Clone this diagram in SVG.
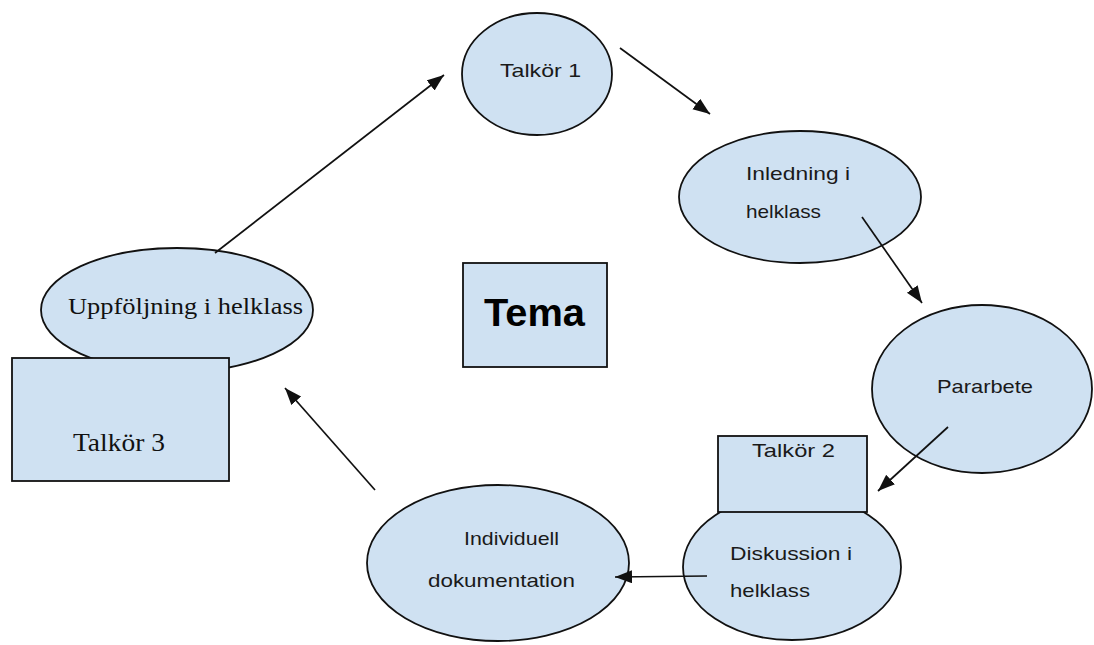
<svg xmlns="http://www.w3.org/2000/svg" width="1094" height="645" viewBox="0 0 1094 645">
<style>
.shape{fill:#cfe1f2;stroke:#111;stroke-width:1.8}
.sans{font-family:"Liberation Sans",Arial,sans-serif;font-size:19px;fill:#1a1a1a}
.serif{font-family:"Liberation Serif","Times New Roman",serif;fill:#111}
.conn{stroke:#111;stroke-width:1.7;fill:none;marker-end:url(#arrow)}
</style>
<defs>
<marker id="arrow" markerUnits="userSpaceOnUse" markerWidth="20" markerHeight="14" refX="17" refY="6.5" orient="auto">
<path d="M0,0 L17,6.5 L0,13 Z" fill="#111"/>
</marker>
</defs>
<rect width="1094" height="645" fill="#fff"/>
<g id="talkor1">
<ellipse class="shape" cx="537" cy="74" rx="75" ry="61"/>
<text class="sans" x="500" y="77" textLength="81" lengthAdjust="spacingAndGlyphs">Talkör 1</text>
</g>
<g id="inledning">
<ellipse class="shape" cx="800" cy="197" rx="121" ry="66"/>
<text class="sans" x="746" y="180" textLength="104" lengthAdjust="spacingAndGlyphs">Inledning i</text>
<text class="sans" x="746" y="218" textLength="75" lengthAdjust="spacingAndGlyphs">helklass</text>
</g>
<g id="pararbete">
<ellipse class="shape" cx="982" cy="389" rx="110" ry="84"/>
<text class="sans" x="937" y="393" textLength="96" lengthAdjust="spacingAndGlyphs">Pararbete</text>
</g>
<g id="diskussion">
<ellipse class="shape" cx="792" cy="567" rx="109" ry="73"/>
<text class="sans" x="730" y="560" textLength="122" lengthAdjust="spacingAndGlyphs">Diskussion i</text>
<text class="sans" x="730" y="597" textLength="80" lengthAdjust="spacingAndGlyphs">helklass</text>
</g>
<g id="talkor2">
<rect class="shape" x="718" y="436" width="149" height="76"/>
<text class="sans" x="752" y="457" textLength="83" lengthAdjust="spacingAndGlyphs">Talkör 2</text>
</g>
<g id="individuell">
<ellipse class="shape" cx="498" cy="563" rx="131" ry="78"/>
<text class="sans" x="464" y="545" textLength="95" lengthAdjust="spacingAndGlyphs">Individuell</text>
<text class="sans" x="428" y="587" textLength="147" lengthAdjust="spacingAndGlyphs">dokumentation</text>
</g>
<g id="uppfoljning">
<ellipse class="shape" cx="177" cy="310" rx="136" ry="62"/>
<text class="serif" x="68" y="314" font-size="24" textLength="235" lengthAdjust="spacingAndGlyphs">Uppföljning i helklass</text>
</g>
<g id="talkor3">
<rect class="shape" x="12" y="358" width="217" height="123"/>
<text class="serif" x="73" y="451" font-size="25" textLength="92" lengthAdjust="spacingAndGlyphs">Talkör 3</text>
</g>
<g id="tema">
<rect class="shape" x="463" y="263" width="144" height="104"/>
<text x="484" y="326" font-family="Liberation Sans,Arial,sans-serif" font-weight="bold" font-size="38" fill="#000" textLength="101" lengthAdjust="spacingAndGlyphs">Tema</text>
</g>
<g id="connectors">
<line class="conn" x1="620" y1="48" x2="710" y2="114"/>
<line class="conn" x1="862" y1="217" x2="922" y2="303"/>
<line class="conn" x1="948" y1="427" x2="878" y2="491"/>
<line class="conn" x1="707" y1="576" x2="615" y2="577"/>
<line class="conn" x1="375" y1="490" x2="285" y2="388"/>
<line class="conn" x1="215" y1="253" x2="444" y2="75"/>
</g>
</svg>
